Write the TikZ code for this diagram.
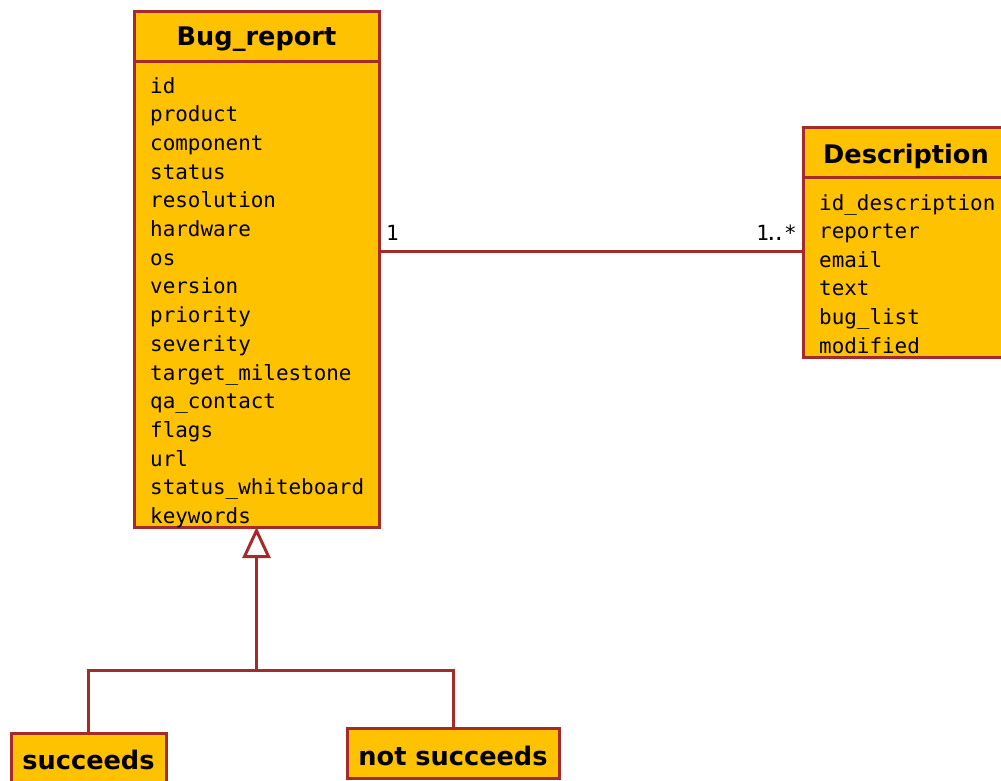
\documentclass[tikz,border=0pt]{standalone}
\usepackage{fontspec}
\setmainfont{DejaVu Sans}
\newfontfamily\attrfont{DejaVu Sans Mono}
\usetikzlibrary{arrows.meta}
\definecolor{umlfill}{HTML}{FFC200}
\definecolor{umlline}{HTML}{A52A2A}

\begin{document}
\begin{tikzpicture}[x=1pt,y=-1pt,
  box/.style={draw=umlline, fill=umlfill, line width=3pt, rectangle,
              inner sep=0pt, outer sep=0pt, anchor=north west},
  title/.style={font=\fontsize{25.6}{30}\selectfont\bfseries, anchor=base, inner sep=0pt},
  attr/.style={font=\attrfont\fontsize{20.9}{28.7}\selectfont, anchor=base west, inner sep=0pt},
  conn/.style={draw=umlline, line width=3pt}]

\useasboundingbox (0,0) rectangle (1001,780);

% Bug_report class
\node[box, minimum width=245pt, minimum height=466pt] (bugB) at (134,61) {};
\node[box, minimum width=245pt, minimum height=50pt] (bugH) at (134,11) {};
\node[title] (bugT) at (256.5,45.7) {Bug\_report};
\foreach \t [count=\i from 0] in {id,product,component,status,resolution,hardware,os,version,priority,severity,target\_milestone,qa\_contact,flags,url,status\_whiteboard,keywords}
  \node[attr] (bugA\i) at (150,93+28.7*\i) {\t};

% Description class
\node[box, minimum width=206pt, minimum height=180pt] (descB) at (803,177) {};
\node[box, minimum width=206pt, minimum height=50pt] (descH) at (803,127) {};
\node[title] (descT) at (906,163.3) {Description};
\foreach \t [count=\i from 0] in {id\_description,reporter,email,text,bug\_list,modified}
  \node[attr] (descA\i) at (819,210+28.6*\i) {\t};

% subclasses
\node[box, minimum width=155pt, minimum height=50pt] (succ) at (11,733) {};
\node[title] (succT) at (88.5,769) {succeeds};
\node[box, minimum width=212pt, minimum height=50pt] (nsucc) at (347,728) {};
\node[title] (nsuccT) at (453,765) {not succeeds};

% association
\coordinate (assocY) at (0,251.5);
\draw[conn] (bugB.east |- assocY) -- (descB.west |- assocY);
\node[attr] (multL) at (386,240) {1};
\node[attr, anchor=base east] (multR) at (797,240) {1\kern-4pt.\kern-5pt.\kern-1pt*};

% generalization
\coordinate (j) at (256.5,670);
\draw[conn, -{Triangle[length=31pt,width=28pt,fill=white]}] (j) -- (bugB.south);
\draw[conn] (succ.north) |- (j) -| (nsucc.north);

\end{tikzpicture}
\end{document}
